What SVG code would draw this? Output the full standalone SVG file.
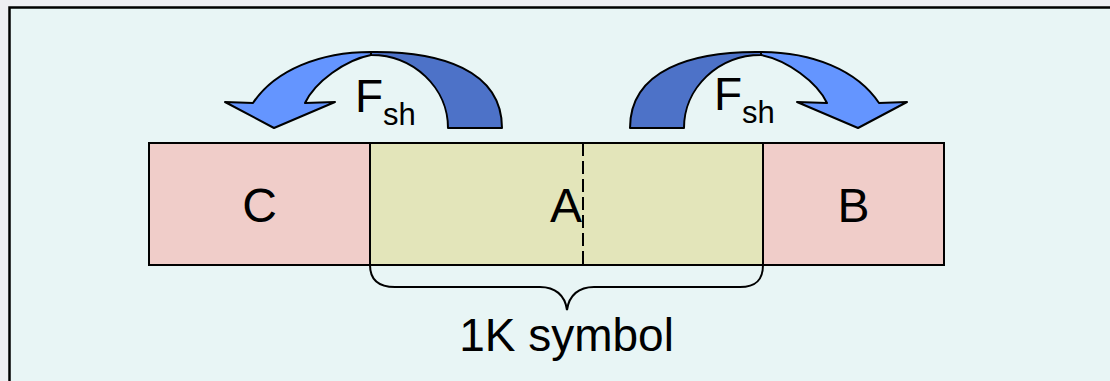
<svg xmlns="http://www.w3.org/2000/svg" width="1110" height="381" viewBox="0 0 1110 381">
<style>
.lbl{font-family:"Liberation Sans",Arial,sans-serif;font-size:46px;fill:#000;}
.big{font-size:48px;}
.box{stroke:#000;stroke-width:2;}
.pink{fill:#F0CDC9;}
.yel{fill:#E3E5BA;}
.light{fill:#6495FF;stroke:#000;stroke-width:2;stroke-linejoin:round;}
.dark{fill:#4D72C8;stroke:#000;stroke-width:2;stroke-linejoin:round;}
</style>
<defs>
<g id="curvedArrow">
<path class="dark" d="M371,52 C440,51 502,70 502,128 L448,128 A77,73 0 0 0 371,55 Z"/>
<path class="light" d="M253,103 C275,70 320,52 371,52 L371,55 C345,60 315,82 305,103 L335,102 L274,128 L225,102 Z"/>
</g>
</defs>
<rect x="0" y="0" width="1110" height="381" fill="#EEEEF2"/>
<rect x="9.5" y="7.5" width="1110" height="380" fill="#E8F5F5" stroke="#000" stroke-width="2.5"/>
<g id="nodeC">
<rect class="box pink" x="149" y="143" width="221" height="122"/>
<text class="lbl big" x="259.5" y="222" text-anchor="middle">C</text>
</g>
<g id="nodeA">
<rect class="box yel" x="370" y="143" width="393" height="122"/>
<text class="lbl big" x="566" y="222" text-anchor="middle">A</text>
</g>
<g id="nodeB">
<rect class="box pink" x="763" y="143" width="181" height="122"/>
<text class="lbl big" x="853.5" y="222" text-anchor="middle">B</text>
</g>
<g id="connectors">
<line x1="583" y1="143" x2="583" y2="265" stroke="#000" stroke-width="2" stroke-dasharray="13 5"/>
<use href="#curvedArrow"/>
<use href="#curvedArrow" transform="translate(1132,0) scale(-1,1)"/>
<path d="M370,265 C370,280 378,287 395,287 L540,287 C555,287 565,295 567,310 C569,295 579,287 594,287 L740,287 C756,287 763,280 763,265" fill="none" stroke="#000" stroke-width="2"/>
</g>
<g id="labels">
<text class="lbl" x="355" y="112">F<tspan font-size="31" dy="13">sh</tspan></text>
<text class="lbl" x="714" y="110">F<tspan font-size="31" dy="13">sh</tspan></text>
<text class="lbl" x="566.5" y="351" text-anchor="middle">1K symbol</text>
</g>
</svg>
